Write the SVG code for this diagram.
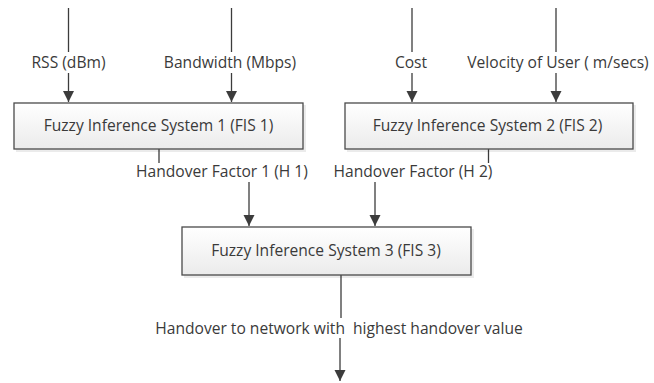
<svg xmlns="http://www.w3.org/2000/svg" width="654" height="383" viewBox="0 0 654 383">
<style>
.box{fill:url(#g);stroke:#4a4a4a;stroke-width:1.3}
.sh{fill:#000;opacity:0.08}
.t{font-family:"Open Sans","DejaVu Sans",sans-serif;font-size:15.6px;fill:#3a3a3a}
.c{fill:none;stroke:#3c3c3c;stroke-width:1.3}
</style>
<defs>
<linearGradient id="g" x1="0" y1="0" x2="0" y2="1">
<stop offset="0" stop-color="#ffffff"/>
<stop offset="1" stop-color="#ebebeb"/>
</linearGradient>
<marker id="ah" viewBox="0 0 10 10" refX="10" refY="5" markerWidth="11" markerHeight="12" markerUnits="userSpaceOnUse" orient="auto">
<path d="M0,0 L10,5 L0,10 z" fill="#3c3c3c"/>
</marker>
</defs>
<rect width="654" height="383" fill="#fff"/>
<g id="connectors">
<line class="c" x1="68.5" y1="8" x2="68.5" y2="52"/>
<line class="c" x1="68.5" y1="73" x2="68.5" y2="102" marker-end="url(#ah)"/>
<line class="c" x1="231.5" y1="8" x2="231.5" y2="52"/>
<line class="c" x1="231.5" y1="73" x2="231.5" y2="102" marker-end="url(#ah)"/>
<line class="c" x1="412" y1="8" x2="412" y2="52"/>
<line class="c" x1="412" y1="73" x2="412" y2="102" marker-end="url(#ah)"/>
<line class="c" x1="556" y1="8" x2="556" y2="52"/>
<line class="c" x1="556" y1="73" x2="556" y2="102" marker-end="url(#ah)"/>
<line class="c" x1="159" y1="149" x2="159" y2="163"/>
<line class="c" x1="488.5" y1="149" x2="488.5" y2="163"/>
<line class="c" x1="249" y1="182" x2="249" y2="226" marker-end="url(#ah)"/>
<line class="c" x1="375" y1="182" x2="375" y2="226" marker-end="url(#ah)"/>
<line class="c" x1="341" y1="275" x2="341" y2="318"/>
<line class="c" x1="340" y1="338" x2="340" y2="381" marker-end="url(#ah)"/>
<text class="t" x="68.5" y="68" text-anchor="middle">RSS (dBm)</text>
<text class="t" x="230" y="68" text-anchor="middle">Bandwidth (Mbps)</text>
<text class="t" x="411" y="68" text-anchor="middle">Cost</text>
<text class="t" x="558" y="68" text-anchor="middle">Velocity of User ( m/secs)</text>
<text class="t" x="222" y="177" text-anchor="middle">Handover Factor 1 (H 1)</text>
<text class="t" x="413" y="177" text-anchor="middle">Handover Factor (H 2)</text>
<text class="t" x="339" y="334" text-anchor="middle" style="white-space:pre">Handover to network with  highest handover value</text>
</g>
<g id="fis1">
<rect class="sh" x="16" y="105" width="290" height="47"/>
<rect class="box" x="14" y="103" width="289" height="46"/>
<text class="t" x="158.5" y="131" text-anchor="middle">Fuzzy Inference System 1 (FIS 1)</text>
</g>
<g id="fis2">
<rect class="sh" x="347" y="105" width="289" height="47"/>
<rect class="box" x="345" y="103" width="288" height="46"/>
<text class="t" x="487.5" y="131" text-anchor="middle">Fuzzy Inference System 2 (FIS 2)</text>
</g>
<g id="fis3">
<rect class="sh" x="184" y="229" width="290" height="49"/>
<rect class="box" x="182" y="227" width="289" height="48"/>
<text class="t" x="326" y="256" text-anchor="middle">Fuzzy Inference System 3 (FIS 3)</text>
</g>
</svg>
